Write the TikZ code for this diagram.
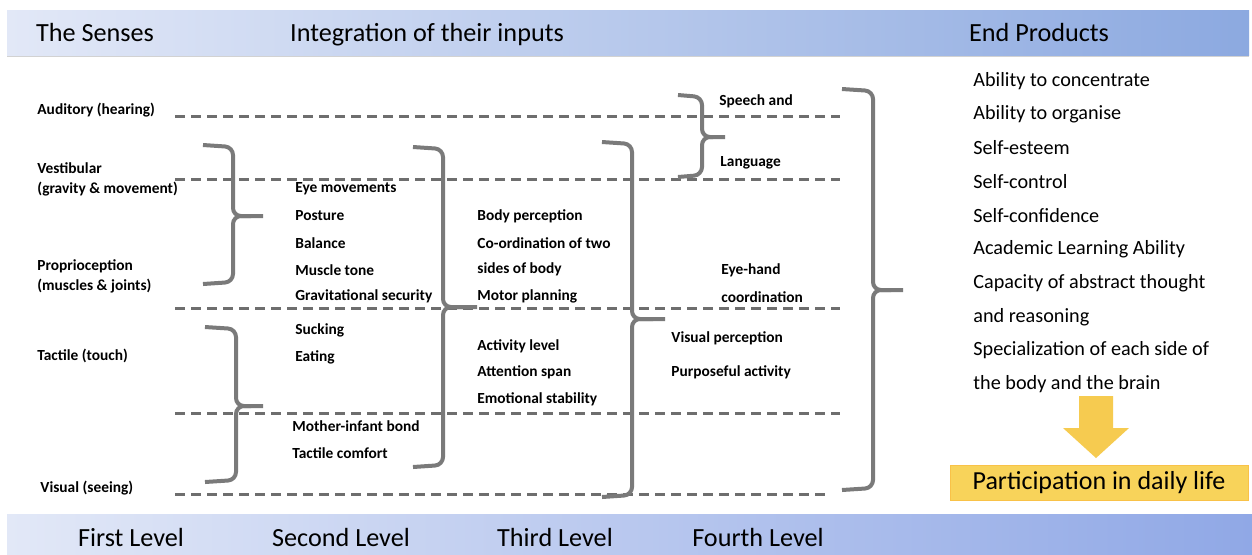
\documentclass[tikz,border=0pt]{standalone}
\usepackage{fontspec}
\setmainfont{Carlito}
\usetikzlibrary{shadows}
\definecolor{barL}{HTML}{E2E8F7}
\definecolor{barR}{HTML}{8CA9E0}
\definecolor{barRb}{HTML}{90A8E6}
\definecolor{lineg}{HTML}{6E6E6E}
\definecolor{braceg}{HTML}{7A7A7A}
\definecolor{gold}{HTML}{F8D35A}
\definecolor{goldarrow}{HTML}{F6CB50}
\tikzset{
  headtext/.style={font=\fontsize{13.1}{15}\selectfont, text=black, anchor=base, inner sep=0pt},
  sense/.style={font=\bfseries\fontsize{7.7}{9}\selectfont, anchor=west, inner sep=0pt, align=left},
  item/.style={font=\bfseries\fontsize{7.7}{9}\selectfont, anchor=west, inner sep=0pt},
  product/.style={font=\fontsize{10.1}{12}\selectfont, anchor=west, inner sep=0pt},
  sepline/.style={draw=lineg, line width=1.5pt, dash pattern=on 5pt off 3pt},
  bracket/.style={draw=braceg, line width=2pt, rounded corners=4pt},
  bar/.style={draw=none, drop shadow={opacity=0.35, shadow xshift=0pt, shadow yshift=-1pt}},
}
% \brk{x end}{x spine}{y top}{y tip}{y bottom}{x tip}
\newcommand{\brk}[6]{%
  \draw[bracket] (#1,#3) -- (#2,#3+2) -- (#2,#4) -- (#6,#4);
  \draw[bracket] (#6-12,#4) -- (#2,#4) -- (#2,#5-2) -- (#1,#5);
}
\begin{document}
\begin{tikzpicture}[x=0.5pt, y=-0.5pt]
\useasboundingbox (0,0) rectangle (1252,554);
\fill[white] (0,0) rectangle (1252,554);

% header and footer bands
\path[bar, left color=barL, right color=barR] (7,10) rectangle (1249,55);
\path[bar, left color=barL, right color=barRb] (7,514) rectangle (1252,554);
\node[headtext] (hsenses) at (95,41) {The Senses};
\node[headtext] (hinteg) at (427,41) {Integration of their inputs};
\node[headtext] (hend) at (1039,41) {End Products};
\node[headtext] (lv1) at (131,546) {First Level};
\node[headtext] (lv2) at (341,546) {Second Level};
\node[headtext] (lv3) at (555,546) {Third Level};
\node[headtext] (lv4) at (758,546) {Fourth Level};

% the senses
\node[sense] (aud) at (37,110) {Auditory (hearing)};
\node[sense] (vest) at (37,179) {Vestibular\\[1pt](gravity \& movement)};
\node[sense] (prop) at (37,276) {Proprioception\\[1pt](muscles \& joints)};
\node[sense] (tact) at (37,356) {Tactile (touch)};
\node[sense] (vis) at (40,488) {Visual (seeing)};

% separating lines
\coordinate (s1) at (175,116); \coordinate (e1) at (840,116);
\coordinate (s2) at (175,179); \coordinate (e2) at (840,179);
\coordinate (s3) at (175,308); \coordinate (e3) at (840,308);
\coordinate (s4) at (175,413); \coordinate (e4) at (840,413);
\coordinate (s5) at (175,494); \coordinate (e5) at (830,494);
\foreach \i in {1,...,5} \draw[sepline] (s\i) -- (e\i);

% first level brackets
\brk{203}{233}{145}{216}{284}{263}
\brk{205}{236}{327}{406}{482}{263}
% second level bracket
\brk{413}{443}{147}{307}{467}{477}
% third level bracket
\brk{602}{632}{142}{319}{497}{665}
% speech bracket
\brk{678}{702}{95}{137}{177}{725}
% fourth level bracket
\brk{842}{873}{89}{290}{490}{903}

% second level
\node[item] (eye) at (295,189) {Eye movements};
\node[item] (post) at (295,216) {Posture};
\node[item] (bal) at (295,243) {Balance};
\node[item] (tone) at (295,270) {Muscle tone};
\node[item] (grav) at (295,296) {Gravitational security};
\node[item] (suck) at (295,330) {Sucking};
\node[item] (eat) at (295,357) {Eating};
\node[item] (bond) at (292,426) {Mother-infant bond};
\node[item] (comf) at (292,453) {Tactile comfort};

% third level
\node[item] (body) at (477,216) {Body perception};
\node[item] (coord) at (477,243) {Co-ordination of two};
\node[item] (sides) at (477,269) {sides of body};
\node[item] (motor) at (477,296) {Motor planning};
\node[item] (act) at (477,346) {Activity level};
\node[item] (att) at (477,372) {Attention span};
\node[item] (emo) at (477,399) {Emotional stability};

% fourth level
\node[item] (speech) at (719,101) {Speech and};
\node[item] (lang) at (720,163) {Language};
\node[item] (eyeh) at (721,270) {Eye-hand};
\node[item] (ehc) at (721,297) {coordination};
\node[item] (visp) at (671,338) {Visual perception};
\node[item] (purp) at (671,372) {Purposeful activity};

% end products
\node[product] (p1) at (973,81) {Ability to concentrate};
\node[product] (p2) at (973,114) {Ability to organise};
\node[product] (p3) at (973,148) {Self-esteem};
\node[product] (p4) at (973,182) {Self-control};
\node[product] (p5) at (973,216) {Self-confidence};
\node[product] (p6) at (973,249) {Academic Learning Ability};
\node[product] (p7) at (973,283) {Capacity of abstract thought};
\node[product] (p8) at (973,317) {and reasoning};
\node[product] (p9) at (973,350) {Specialization of each side of};
\node[product] (p10) at (973,384) {the body and the brain};

% arrow into the outcome box
\fill[goldarrow] (1079,396) -- (1113,396) -- (1113,428) -- (1129,428) -- (1096,458)
  -- (1063,428) -- (1079,428) -- cycle;
\node[fill=gold, draw=gold!80!orange, line width=0.5pt, minimum width=149pt, minimum height=17.5pt,
  inner sep=0pt, font=\fontsize{13}{15}\selectfont] (life) at (1099,483) {Participation in daily life};
\end{tikzpicture}
\end{document}
